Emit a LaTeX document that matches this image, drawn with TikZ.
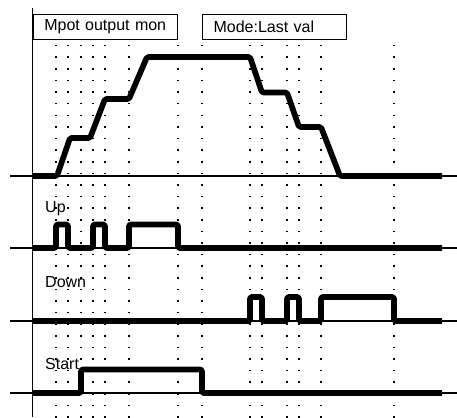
\documentclass[tikz,border=0pt]{standalone}
\usepackage{fontspec}
\setmainfont{Liberation Sans}
\begin{document}
\begin{tikzpicture}[x=1pt,y=-1pt,
  thinline/.style={line width=1.2pt,black},
  sig/.style={line width=5.7pt,black,line join=round,rounded corners=1.5pt},
  labelbox/.style={draw,line width=1.2pt,anchor=north west,minimum width=144pt,minimum height=25pt,
     text width=122pt,align=left,inner xsep=11pt,inner ysep=0pt,font=\fontsize{16}{18}\selectfont},
  siglabel/.style={anchor=base west,inner sep=0pt,font=\fontsize{16}{18}\selectfont},
  griddot/.style={fill=black}]
\useasboundingbox (0,0) rectangle (457,417);
% dotted grid
\foreach \x in {56,68,81,93,105,129,178,202,250,262,287,299,321,394}{
  \foreach \k in {0,...,32}{
    \fill[griddot] ({\x-0.8},{45.7+11.6*\k-0.8}) rectangle ++(1.6,1.6);
  }
}
% axis and baselines
\coordinate (axtop) at (32.7,8);
\coordinate (axbot) at (32.7,417);
\draw[thinline] (axtop) -- (axbot);
\foreach \y/\n in {176/a,248/b,321/c,393/d}{
  \coordinate (l\n) at (10,\y);
  \coordinate (r\n) at (457,\y);
  \draw[thinline] (l\n) -- (r\n);
}
% label boxes
\node[labelbox] (mpot) at (32.7,14) {Mpot output mon};
\node[labelbox] (mode) at (202,14) {Mode:Last val};
% signal labels
\node[siglabel] (up) at (45,212) {Up};
\node[siglabel] (down) at (45,287) {Down};
\node[siglabel] (start) at (45,369) {Start};
% output signal
\draw[sig] (32.7,176) -- (57,176) -- (70,138) -- (90,138) -- (105,99) -- (129,99) -- (147,57)
  -- (250,57) -- (262,92.5) -- (287,92.5) -- (299,127) -- (321,127) -- (340,176) -- (442,176);
% Up
\draw[sig] (32.7,248) -- (56,248) -- (56,224.5) -- (68,224.5) -- (68,248) -- (93,248) -- (93,224.5)
  -- (105,224.5) -- (105,248) -- (129,248) -- (129,224.5) -- (178,224.5) -- (178,248) -- (442,248);
% Down
\draw[sig] (32.7,321) -- (250,321) -- (250,297) -- (262,297) -- (262,321) -- (287,321) -- (287,297)
  -- (299,297) -- (299,321) -- (321,321) -- (321,297) -- (394,297) -- (394,321) -- (442,321);
% Start
\draw[sig] (32.7,393) -- (81,393) -- (81,369.5) -- (202,369.5) -- (202,393) -- (442,393);
\end{tikzpicture}
\end{document}
